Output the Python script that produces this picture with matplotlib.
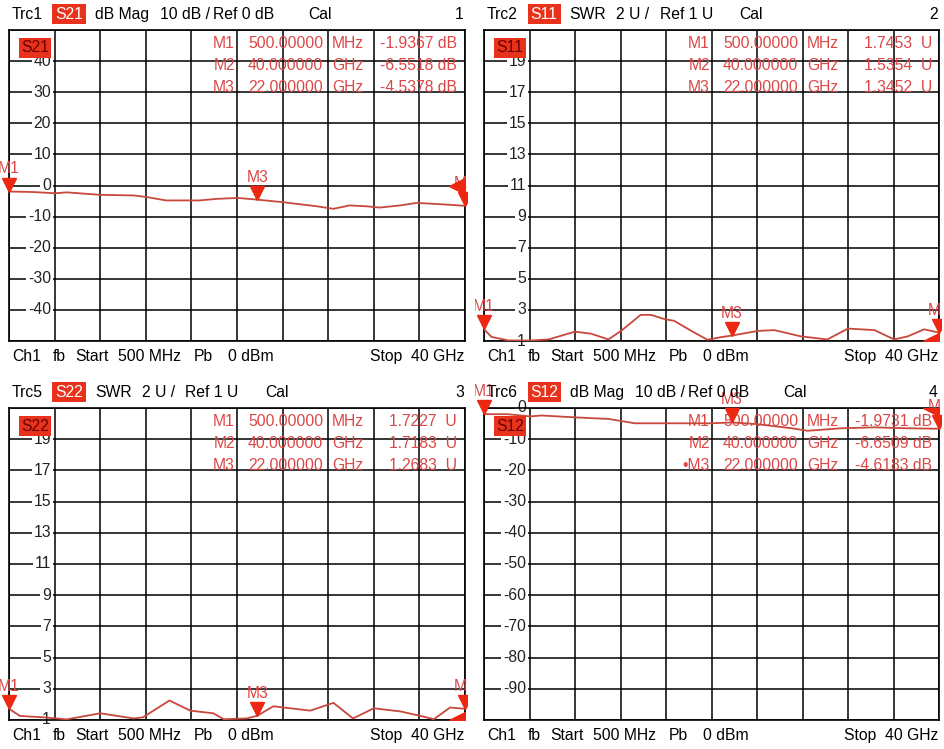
import matplotlib.pyplot as plt
from matplotlib.patches import Rectangle
from matplotlib.transforms import Bbox, TransformedBbox, offset_copy, blended_transform_factory

plt.rcParams['font.family'] = ['Liberation Sans', 'DejaVu Sans']

W, H = 945, 749

# traces (frequency in GHz)
s21_f = [0.5, 2.6, 4.5, 5.5, 8.4, 11.3, 12.4, 14.1, 17.0, 18.5, 20.3, 22.0,
         24.3, 27.2, 28.6, 30.0, 31.5, 32.6, 34.4, 35.8, 37.3, 38.7, 40.0]
s21_db = [-1.94, -2.1, -2.5, -2.2, -3.0, -3.2, -3.7, -4.8, -4.8, -4.3, -4.0, -4.54,
          -5.4, -6.7, -7.5, -6.4, -6.7, -7.1, -6.4, -5.6, -5.9, -6.2, -6.55]

s11_f = [0.5, 1.16, 2.6, 4.5, 6.1, 8.4, 9.8, 11.3, 12.4, 14.1, 15.0, 16.2, 17.0,
         18.5, 19.9, 21.1, 22.0, 24.3, 25.7, 28.0, 30.3, 32.1, 34.4, 36.1, 37.3, 38.7, 40.0]
s11_swr = [1.75, 1.26, 1.04, 1.03, 1.1, 1.6, 1.47, 1.1, 1.65, 2.68, 2.68, 2.4, 2.3,
           1.65, 1.08, 1.25, 1.35, 1.65, 1.7, 1.3, 1.1, 1.8, 1.7, 1.1, 1.3, 1.75, 1.54]

s22_f = [0.5, 1.45, 3.5, 5.5, 8.4, 11.3, 12.1, 14.4, 16.2, 18.2, 19.1, 21.1,
         22.0, 23.4, 26.6, 28.6, 30.3, 32.1, 34.4, 36.1, 37.3, 38.7, 40.0]
s22_swr = [1.72, 1.26, 1.17, 1.04, 1.43, 1.1, 1.17, 2.25, 1.6, 1.43, 1.05, 1.1,
           1.27, 1.88, 1.6, 2.1, 1.1, 1.75, 1.55, 1.27, 1.05, 1.8, 1.72]

s12_f = [0.5, 2.6, 4.5, 5.5, 8.4, 11.3, 13.6, 17.0, 20.3, 22.0, 24.3, 27.2,
         28.6, 31.5, 34.4, 37.3, 40.0]
s12_db = [-1.97, -2.0, -2.7, -2.4, -3.0, -3.5, -4.9, -4.9, -4.9, -4.62, -5.2, -6.5,
          -7.3, -6.5, -6.2, -6.5, -6.65]

# marker table (order as shown in the readout)
mk_names = ['M1', 'M2', 'M3']
mk_freq = [0.5, 40.0, 22.0]
mk_freq_txt = ['500.00000', '40.000000', '22.000000']
mk_unit_txt = ['MHz', 'GHz', 'GHz']
s21_mk = [-1.9367, -6.5518, -4.5378]
s11_mk = [1.7453, 1.5354, 1.3452]
s22_mk = [1.7227, 1.7183, 1.2683]
s12_mk = [-1.9731, -6.6509, -4.6183]

# y tick labels
db_ticks_1 = [40, 30, 20, 10, 0, -10, -20, -30, -40]
swr_ticks = [19, 17, 15, 13, 11, 9, 7, 5, 3, 1]
db_ticks_4 = [0, -10, -20, -30, -40, -50, -60, -70, -80, -90]

TRACE = '#c8483c'
MARK = '#ec2812'
READ = '#dc4646'
BOXRED = '#e8321c'
FS = 11.3


def fx(px):
    return px / W


def fy(py):
    return 1 - py / H


panels = [
    dict(trc='Trc1', par='S21', hdr=[('dB Mag', 86), ('10 dB /', 151), ('Ref 0 dB', 204), ('Cal', 299)],
         num='1', f=s21_f, y=s21_db, mk=s21_mk, unit='dB', ylim=(-50, 50), ticks=db_ticks_1,
         refv=0, box=(9, 30, 465, 341)),
    dict(trc='Trc2', par='S11', hdr=[('SWR', 85), ('2 U /', 132), ('Ref 1 U', 176), ('Cal', 255)],
         num='2', f=s11_f, y=s11_swr, mk=s11_mk, unit=' U', ylim=(1, 21), ticks=swr_ticks,
         refv=1, box=(484, 30, 939, 341)),
    dict(trc='Trc5', par='S22', hdr=[('SWR', 86), ('2 U /', 133), ('Ref 1 U', 176), ('Cal', 256)],
         num='3', f=s22_f, y=s22_swr, mk=s22_mk, unit=' U', ylim=(1, 21), ticks=swr_ticks,
         refv=1, box=(9, 408, 465, 720)),
    dict(trc='Trc6', par='S12', hdr=[('dB Mag', 86), ('10 dB /', 151), ('Ref 0 dB', 204), ('Cal', 299)],
         num='4', f=s12_f, y=s12_db, mk=s12_mk, unit='dB', ylim=(-100, 0), ticks=db_ticks_4,
         refv=0, box=(484, 408, 939, 720)),
]

fig = plt.figure(figsize=(W / 100, H / 100), dpi=100)
fig.patch.set_facecolor('white')

for p in panels:
    x0, y0, x1, y1 = p['box']
    ax = fig.add_axes([fx(x0), fy(y1), (x1 - x0) / W, (y1 - y0) / H])
    lo, hi = p['ylim']
    ax.set_xlim(0.5, 40)
    ax.set_ylim(lo, hi)
    ax.set_xticks([0.5 + i * 3.95 for i in range(11)])
    ax.set_yticks([lo + i * (hi - lo) / 10 for i in range(11)])
    ax.grid(True, color='black', lw=1.1)
    ax.tick_params(length=0, labelbottom=False, labelleft=False)
    for s in ax.spines.values():
        s.set_color('black')
        s.set_linewidth(1.2)

    # trace
    ax.plot(p['f'], p['y'], color=TRACE, lw=1.3, zorder=3)

    # tick labels inside the diagram
    tr = blended_transform_factory(fig.transFigure, ax.transData)
    for t in p['ticks']:
        ax.text(fx(x0 + 42), t, str(t), transform=tr, ha='right', va='center',
                fontsize=FS, color='#222222', zorder=2,
                bbox=dict(facecolor='white', edgecolor='none', pad=1.2))

    # screen area of this diagram, used to clip the marker symbols
    clip = TransformedBbox(Bbox.from_extents(fx(x0 - 9), fy(y1 + 3), fx(x1 + 2), fy(y0 - 32)),
                           fig.transFigure)

    for name, f, v in zip(mk_names, mk_freq, p['mk']):
        tri, = ax.plot(f, v, marker='v', ms=10.5, color=MARK, ls='none', zorder=4,
                       transform=offset_copy(ax.transData, fig, x=0, y=5, units='points'))
        tri.set_clip_box(clip)
        lab = ax.annotate(name, (f, v), xytext=(0, 13), textcoords='offset points',
                          ha='center', va='baseline', color=READ, fontsize=FS,
                          annotation_clip=False, zorder=4)
        lab.set_clip_box(clip)
        lab.set_clip_on(True)

    # reference level symbol at the right edge
    ax.plot(40, p['refv'], marker='<', ms=11, color=MARK, ls='none', zorder=4,
            transform=offset_copy(ax.transData, fig, x=-5.5, y=0, units='points'))

    # marker readout
    for i, (name, ft, ut, v) in enumerate(zip(mk_names, mk_freq_txt, mk_unit_txt, p['mk'])):
        ry = fy(y0 + 14 + i * 21.5)
        if p['num'] == '4' and name == 'M3':
            name = '\u2022' + name
        ax.text(fx(x0 + 226), ry, name, transform=fig.transFigure, ha='right', va='center',
                color=READ, fontsize=FS, zorder=2)
        ax.text(fx(x0 + 239), ry, ft, transform=fig.transFigure, ha='left', va='center',
                color=READ, fontsize=FS, zorder=2)
        ax.text(fx(x0 + 323), ry, ut, transform=fig.transFigure, ha='left', va='center',
                color=READ, fontsize=FS, zorder=2)
        ax.text(fx(x0 + 448), ry, f'{v:.4f} {p["unit"]}', transform=fig.transFigure,
                ha='right', va='center', color=READ, fontsize=FS, zorder=2)

    # parameter tag inside the diagram
    fig.add_artist(Rectangle((fx(x0 + 10), fy(y0 + 28)), 32 / W, 20 / H,
                             transform=fig.transFigure, facecolor=BOXRED, edgecolor='none'))
    fig.text(fx(x0 + 26), fy(y0 + 18), p['par'], ha='center', va='center',
             fontsize=FS, color='#6a0000')

    # header line
    hy = fy(y0 - 15.5)
    fig.text(fx(x0 + 3), hy, p['trc'], ha='left', va='center', fontsize=FS)
    fig.add_artist(Rectangle((fx(x0 + 43.5), fy(y0 - 6)), 33 / W, 20 / H,
                             transform=fig.transFigure, facecolor=BOXRED, edgecolor='none'))
    fig.text(fx(x0 + 60), hy, p['par'], ha='center', va='center', fontsize=FS, color='white')
    for txt, off in p['hdr']:
        fig.text(fx(x0 + off), hy, txt, ha='left', va='center', fontsize=FS)
    fig.text(fx(x1 - 1), hy, p['num'], ha='right', va='center', fontsize=FS)

    # footer line
    by = fy(y1 + 15.5)
    for txt, off in [('Ch1', 3), ('fb', 44), ('Start', 66), ('500 MHz', 109), ('Pb', 185), ('0 dBm', 219)]:
        fig.text(fx(x0 + off), by, txt, ha='left', va='center', fontsize=FS)
    fig.text(fx(x1 - 1), by, 'Stop  40 GHz', ha='right', va='center', fontsize=FS)

fig.savefig('out.png', dpi=100, facecolor='white')
